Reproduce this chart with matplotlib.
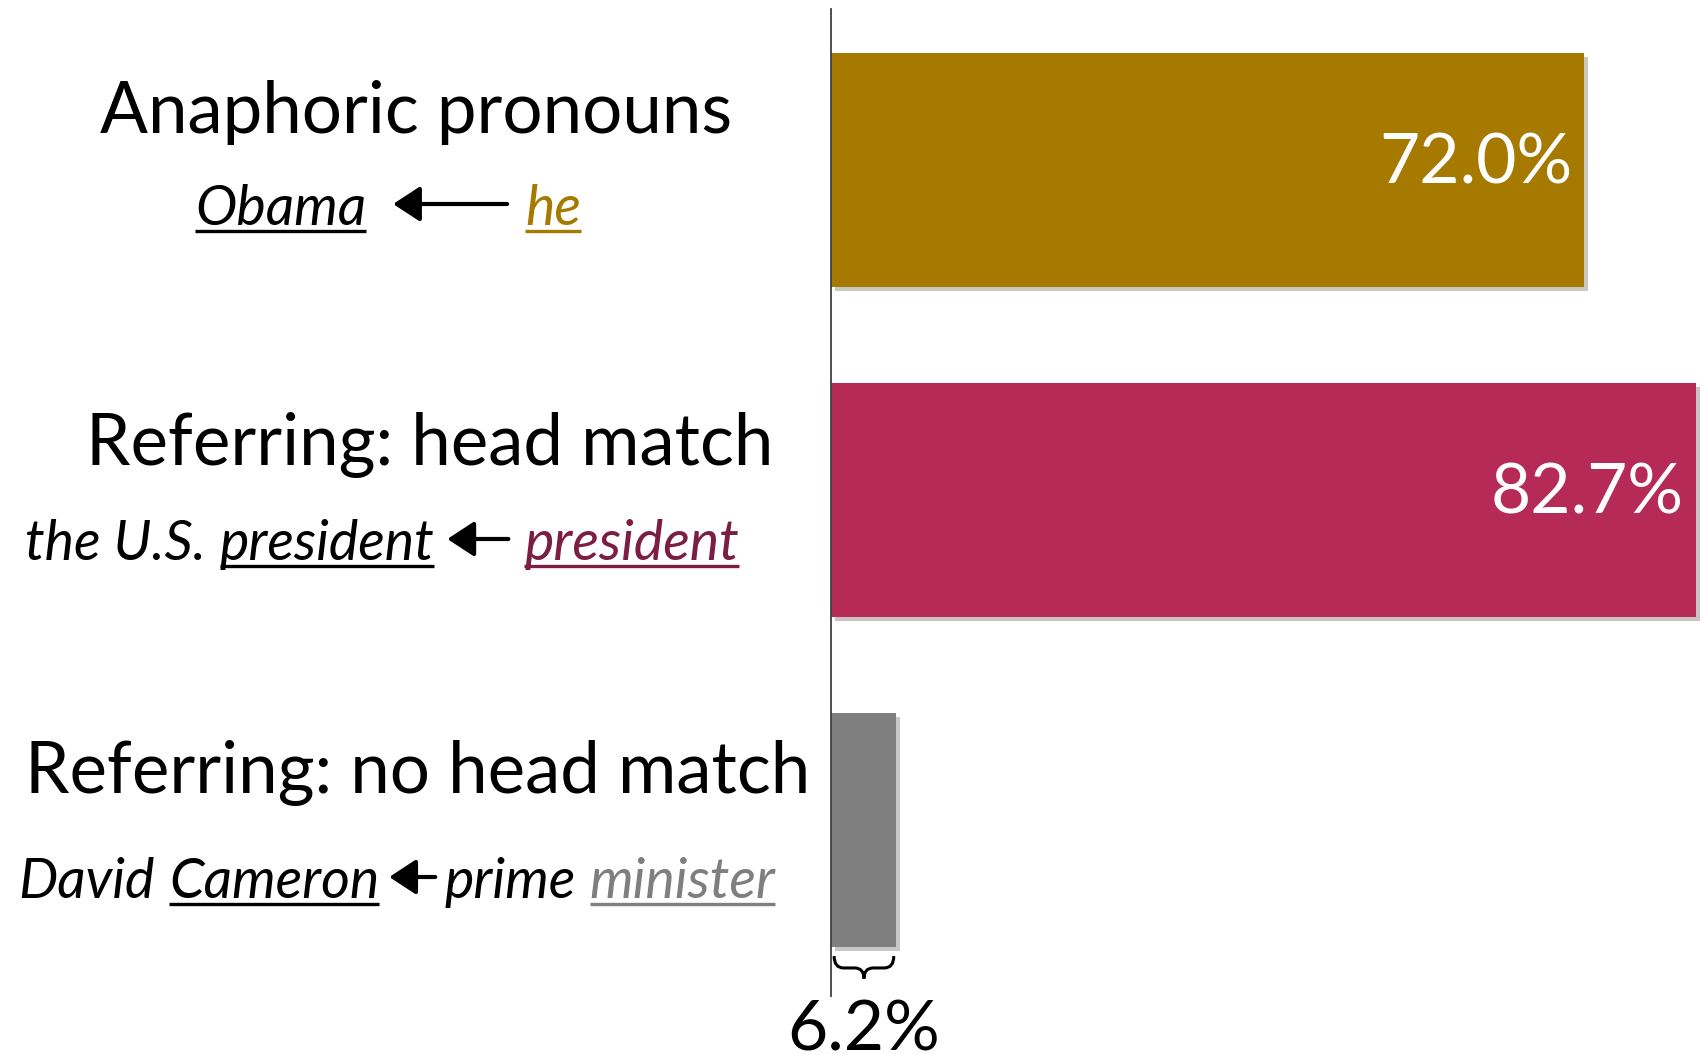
import matplotlib
matplotlib.use("Agg")
import matplotlib.pyplot as plt
import matplotlib.transforms as mtransforms
import matplotlib.patheffects as pe
from matplotlib.path import Path
from matplotlib.patches import PathPatch, FancyArrowPatch

categories = ["Anaphoric pronouns", "Referring: head match", "Referring: no head match"]
values = [72.0, 82.7, 6.2]
bar_colors = ["#A67A00", "#B52A57", "#7F7F7F"]
value_labels = ["72.0%", "82.7%", "6.2%"]

# example phrases: (text, colour, underlined, gap after in px); "ARROW" is the arrow
ex_anaphoric = [("Obama", "black", True, 27), ("ARROW", 114, 18), ("he", "#A67A00", True, 0)]
ex_head = [("the U.S.", "black", False, 14), ("president", "black", True, 13),
           ("ARROW", 61, 16), ("president", "#7B1E42", True, 0)]
ex_nohead = [("David", "black", False, 14), ("Cameron", "black", True, 10),
             ("ARROW", 46, 9), ("prime", "black", False, 14), ("minister", "#7F7F7F", True, 0)]
examples = [ex_anaphoric, ex_head, ex_nohead]

W, H = 1704, 1054
FONT = "Lato"

fig = plt.figure(figsize=(W / 100, H / 100), dpi=100)
ax = fig.add_axes([831 / W, (H - 996) / H, (W - 831) / W, (996 - 9) / H])

shadow = [pe.SimplePatchShadow(offset=(3, -3), alpha=0.25), pe.Normal()]
bars = ax.barh(range(len(values)), values, height=0.71, color=bar_colors)
for b in bars:
    b.set_path_effects(shadow)

ax.set_xlim(0, 83.46)
ax.set_ylim(2.503, -0.488)
for s in ["top", "right", "bottom"]:
    ax.spines[s].set_visible(False)
ax.spines["left"].set_color("#404040")
ax.spines["left"].set_linewidth(1.3)
ax.set_xticks([])
ax.set_yticks([])
ax.patch.set_visible(False)

# value labels inside the big bars
for i in range(2):
    ax.text(values[i] - 1.15, i + 0.04, value_labels[i], color="white", ha="right",
            va="baseline", fontsize=50, family=FONT)
# small bar: brace underneath and label below
x0, x1 = 0.3, values[2] - 0.2
xm = (x0 + x1) / 2
ya, ym, yb = 2.382, 2.418, 2.450
r = 0.9
verts = [(x0, ya), (x0, ym), (x0 + r, ym), (xm - r, ym), (xm, ym), (xm, yb),
         (xm, ym), (xm + r, ym), (x1 - r, ym), (x1, ym), (x1, ya)]
codes = [Path.MOVETO, Path.CURVE3, Path.CURVE3, Path.LINETO, Path.CURVE3, Path.CURVE3,
         Path.CURVE3, Path.CURVE3, Path.LINETO, Path.CURVE3, Path.CURVE3]
ax.add_patch(PathPatch(Path(verts, codes), fill=False, lw=2.2, color="black",
                       clip_on=False, transform=ax.transData))
ax.text(values[2] / 2, 2.667, value_labels[2], ha="center", va="baseline",
        fontsize=50, family=FONT, color="black")

px = mtransforms.IdentityTransform()
renderer = fig.canvas.get_renderer()

# category titles
title_cx = [416, 430, 418]
title_base = [133, 465, 793]
for cat, cx, yb_ in zip(categories, title_cx, title_base):
    fig.text(cx, H - yb_, cat, transform=px, ha="center", va="baseline",
             fontsize=51, family=FONT)


def example_line(parts, cx, base, size):
    items = []
    total = 0
    for p in parts:
        if p[0] == "ARROW":
            items.append(("arrow", p[1], p[2]))
            total += p[1] + p[2]
        else:
            t = fig.text(0, 0, p[0], transform=px, ha="left", va="baseline",
                         fontsize=size, family=FONT, style="italic", color=p[1])
            w = t.get_window_extent(renderer).width
            items.append(("text", t, w, p[3], p[2], p[1]))
            total += w + p[3]
    x = cx - total / 2
    y = H - base
    for it in items:
        if it[0] == "arrow":
            length, gap = it[1], it[2]
            fig.add_artist(FancyArrowPatch((x + length, y + 21), (x, y + 21), transform=px,
                                           arrowstyle="-|>,head_length=0.55,head_width=0.36",
                                           mutation_scale=30, lw=3, color="black",
                                           shrinkA=0, shrinkB=0))
            x += length + gap
        else:
            _, t, w, gap, underline, col = it
            t.set_position((x, y))
            if underline:
                fig.add_artist(plt.Line2D([x, x + w], [y - 6, y - 6], transform=px,
                                          color=col, lw=2.4, solid_capstyle="butt"))
            x += w + gap


ex_cx = [388, 382, 397]
ex_base = [225, 560, 898]
for parts, cx, b in zip(examples, ex_cx, ex_base):
    example_line(parts, cx, b, 40)

fig.savefig("out.png", dpi=100)
